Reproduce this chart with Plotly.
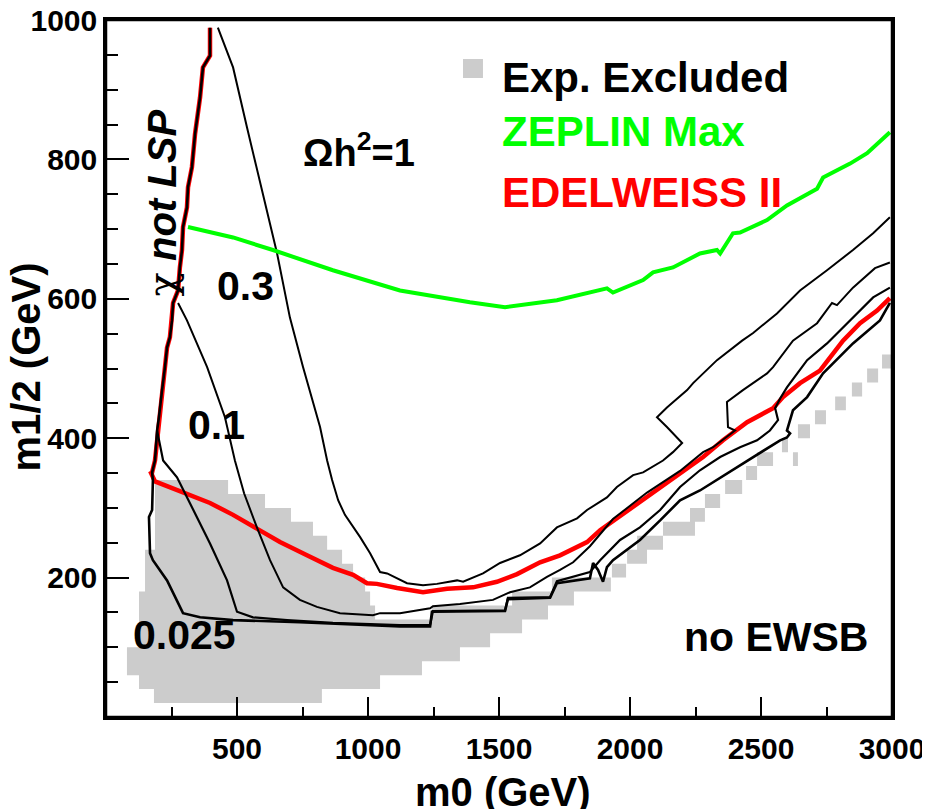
import plotly.graph_objects as go

# ---------------- axes ----------------
x_major = [500, 1000, 1500, 2000, 2500, 3000]
x_major_text = ["500", "1000", "1500", "2000", "2500", "3000"]
x_minor = [250, 750, 1250, 1750, 2250, 2750]
y_major = [200, 400, 600, 800, 1000]
y_major_text = ["200", "400", "600", "800", "1000"]
y_minor = [50, 100, 150, 250, 300, 350, 450, 500, 550, 650, 700, 750, 850, 900, 950]

# ---------------- experimentally excluded cells (m0 lo/hi, m1/2 lo/hi) ----------------
excl_m0_lo = [183, 126, 80, 80, 126, 126, 126, 1244, 126, 1550, 149, 1702, 149, 1931, 149, 1989,
              187, 2027, 187, 2126, 187, 2229, 187, 2286, 187, 2363, 2443, 2485, 2622, 2580,
              2641, 2706, 2783, 2847, 2905, 2962]
excl_m0_hi = [824, 1046, 1206, 1351, 1466, 1588, 1027, 1687, 1008, 1786, 989, 1927, 943, 1985, 901, 2065,
              844, 2126, 790, 2248, 706, 2286, 607, 2344, 466, 2428, 2485, 2546, 2641, 2603,
              2687, 2748, 2824, 2886, 2947, 3000]
excl_m12_lo = [20, 40, 60, 80, 100, 120, 140, 140, 160, 160, 180, 180, 200, 200, 220, 220,
               240, 240, 260, 260, 280, 280, 300, 300, 320, 320, 340, 360, 360, 380,
               400, 420, 440, 460, 480, 500]
excl_m12_hi = [v + 20 for v in excl_m12_lo]

# ---------------- chi not LSP boundary (top -> bottom) ----------------
lsp_m0 = [397, 397, 370, 359, 340, 328, 313, 309, 294, 290, 282, 275, 256, 252, 244, 233, 225, 218,
          214, 202, 195, 187, 176]
lsp_m12 = [989, 949, 932, 889, 837, 789, 760, 731, 703, 670, 645, 612, 594, 569, 545, 530, 502, 483,
           469, 430, 411, 368, 351]

# ---------------- EDELWEISS II (continuation after LSP boundary) ----------------
edw_m0 = [172, 187, 294, 397, 485, 576, 664, 767, 866, 943, 996, 1034, 1111, 1210, 1302, 1401, 1492,
          1569, 1657, 1733, 1836, 1886, 1962, 2065, 2164, 2279, 2355, 2447, 2546, 2584, 2649, 2725,
          2813, 2878, 2943, 2992]
edw_m12 = [350, 338, 323, 307, 290, 271, 251, 232, 214, 204, 192, 191, 185, 179, 184, 186, 194,
           205, 222, 232, 251, 268, 288, 315, 343, 373, 397, 423, 443, 459, 479, 497,
           540, 565, 583, 601]

# ---------------- ZEPLIN Max ----------------
zep_m0 = [313, 485, 637, 866, 1122, 1275, 1389, 1523, 1580, 1721, 1912, 1935, 2050, 2088, 2164, 2267,
          2332, 2344, 2393, 2420, 2523, 2599, 2714, 2737, 2840, 2905, 2992]
zep_m12 = [703, 688, 670, 641, 612, 602, 595, 588, 591, 598, 615, 609, 627, 638, 645, 665,
           670, 665, 694, 695, 713, 734, 758, 774, 794, 809, 839]

# ---------------- relic density contours ----------------
om1_m0 = [427, 485, 538, 599, 653, 702, 752, 817, 844, 863, 886, 912, 970, 1008, 1046, 1073, 1149,
          1210, 1263, 1340, 1363, 1439, 1504, 1580, 1657, 1721, 1798, 1836, 1912, 1950, 2012, 2050,
          2126, 2164, 2199, 2141, 2103, 2141, 2218, 2241, 2332, 2428, 2470, 2561, 2649, 2752, 2851,
          2928, 2992]
om1_m12 = [989, 932, 846, 751, 665, 573, 502, 416, 368, 340, 311, 290, 258, 235, 208, 206, 192,
           189, 191, 196, 194, 206, 221, 232, 249, 272, 285, 297, 315, 330, 347, 351,
           368, 380, 393, 416, 430, 444, 469, 479, 512, 540, 551, 579, 612, 641, 670,
           694, 717]

om03_m0 = [275, 309, 386, 454, 492, 527, 576, 626, 676, 740, 805, 893, 1019, 1046, 1122, 1237, 1248,
           1351, 1477, 1542, 1618, 1683, 1733, 1783, 1847, 1935, 2065, 2191, 2279, 2317, 2401, 2374,
           2370, 2431, 2523, 2546, 2622, 2714, 2771, 2790, 2851, 2935, 2992]
om03_m12 = [594, 569, 502, 430, 368, 321, 272, 225, 186, 168, 158, 149, 146, 149, 149, 156, 159,
            162, 168, 179, 186, 201, 211, 222, 245, 284, 322, 353, 380, 387, 411, 416,
            452, 469, 493, 502, 540, 565, 594, 591, 616, 644, 652]

om01_m0 = [195, 218, 271, 332, 397, 462, 500, 561, 691, 866, 1122, 1237, 1248, 1523, 1534, 1695, 1721,
           1847, 1886, 1962, 2038, 2115, 2191, 2267, 2344, 2420, 2485, 2534, 2565, 2554, 2573, 2599,
           2676, 2752, 2828, 2928, 2992]
om01_m12 = [411, 368, 344, 297, 249, 196, 151, 143, 139, 135, 132, 132, 152, 153, 171, 172, 195,
            208, 225, 254, 272, 297, 330, 354, 373, 387, 397, 411, 426, 443, 457, 473,
            512, 536, 565, 602, 616]

om0025_m0 = [179, 176, 164, 168, 179, 233, 294, 359, 485, 740, 1122, 1237, 1244, 1523, 1534, 1695,
             1721, 1847, 1859, 1878, 1897, 1912, 1935, 2038, 2115, 2191, 2267, 2344, 2420, 2496,
             2573, 2599, 2611, 2599, 2622, 2676, 2737, 2851, 2954, 2992]
om0025_m12 = [340, 297, 287, 235, 225, 196, 149, 143, 139, 136, 130, 130, 151, 152, 169, 171,
              192, 199, 221, 211, 194, 215, 225, 254, 282, 311, 325, 343, 360, 378,
              397, 401, 407, 411, 440, 459, 493, 536, 569, 594]

FONT = "Liberation Sans"
GREY = "#cccccc"
GREEN = "#00ff00"
RED = "#ff0000"

fig = go.Figure()

# excluded region
gx, gy = [], []
for x0, x1, y0, y1 in zip(excl_m0_lo, excl_m0_hi, excl_m12_lo, excl_m12_hi):
    gx += [x0, x1, x1, x0, x0, None]
    gy += [y0, y0, y1, y1, y0, None]
fig.add_trace(go.Scatter(x=gx, y=gy, mode="lines", fill="toself", fillcolor=GREY,
                         line=dict(width=0, color=GREY), hoverinfo="skip", showlegend=False))

# EDELWEISS II (follows LSP boundary then curve)
fig.add_trace(go.Scatter(x=lsp_m0 + edw_m0, y=lsp_m12 + edw_m12, mode="lines",
                         line=dict(color=RED, width=4.5), showlegend=False))

# contours
for xs, ys, w in [(om1_m0, om1_m12, 2), (om03_m0, om03_m12, 2), (om01_m0, om01_m12, 2.2),
                  (lsp_m0 + om0025_m0, lsp_m12 + om0025_m12, 2.6)]:
    fig.add_trace(go.Scatter(x=xs, y=ys, mode="lines", line=dict(color="black", width=w),
                             showlegend=False))

# ZEPLIN
fig.add_trace(go.Scatter(x=zep_m0, y=zep_m12, mode="lines", line=dict(color=GREEN, width=4),
                         showlegend=False))


def lab(text, x, y, size, color="black", angle=0, xref="x", yref="y", xanchor="center"):
    fig.add_annotation(text=text, x=x, y=y, xref=xref, yref=yref, showarrow=False,
                       xanchor=xanchor, yanchor="middle", textangle=angle,
                       font=dict(family=FONT, size=size, color=color))


lab("<b>Ωh<sup>2</sup>=1</b>", 966, 814, 38)
lab("<b>0.3</b>", 532, 619, 41)
lab("<b>0.1</b>", 420, 419, 41)
lab("<b>0.025</b>", 298, 118, 41)
lab("<b>no EWSB</b>", 2559, 115, 41)
lab("<span style=\"font-family:'DejaVu Serif'\">χ</span> <b><i>not LSP</i></b>", 214, 737, 40, angle=-90)

# frame
fig.add_shape(type="rect", xref="paper", yref="paper", x0=0, x1=1, y0=0, y1=1,
              line=dict(color="black", width=2.5), layer="above")

# legend
fig.add_shape(type="rect", xref="paper", yref="paper", x0=0.4542, x1=0.4796, y0=0.9168, y1=0.9440,
              fillcolor=GREY, line=dict(width=0))
lab("<b>Exp. Excluded</b>", 0.5013, 0.9182, 42, xref="paper", yref="paper", xanchor="left")
lab("<b>ZEPLIN Max</b>", 0.5013, 0.8407, 42, color=GREEN, xref="paper", yref="paper", xanchor="left")
lab("<b>EDELWEISS II</b>", 0.5013, 0.7518, 42, color=RED, xref="paper", yref="paper", xanchor="left")

# axis titles
lab("<b>m0 (GeV)</b>", 0.5045, -0.1075, 40, xref="paper", yref="paper")
lab("<b>m1/2 (GeV)</b>", -0.1018, 0.5029, 40, angle=-90, xref="paper", yref="paper")

tickfont = dict(family=FONT, size=30, color="black", weight="bold")
fig.update_xaxes(range=[0, 3000], showgrid=False, zeroline=False, showline=True, mirror=True,
                 linecolor="black", linewidth=2.5, ticks="inside", ticklen=20, tickwidth=2,
                 tickcolor="black", tickmode="array", tickvals=x_major, ticktext=x_major_text,
                 tickfont=tickfont, ticklabelstandoff=3, automargin=False,
                 ticklabeloverflow="allow",
                 minor=dict(tickmode="array", tickvals=x_minor, ticks="inside", ticklen=10,
                            tickwidth=2, tickcolor="black", showgrid=False))
fig.update_yaxes(range=[0, 1000], showgrid=False, zeroline=False, showline=True, mirror=True,
                 linecolor="black", linewidth=2.5, ticks="inside", ticklen=23, tickwidth=2,
                 tickcolor="black", tickmode="array", tickvals=y_major, ticktext=y_major_text,
                 tickfont=tickfont, ticklabelstandoff=0, automargin=False,
                 ticklabeloverflow="allow",
                 minor=dict(tickmode="array", tickvals=y_minor, ticks="inside", ticklen=12,
                            tickwidth=2, tickcolor="black", showgrid=False))
# page body has an 8px default margin: size figure so the plot frame lands where the reference has it
fig.update_layout(width=922, height=801, margin=dict(l=98, r=38, t=12, b=92, autoexpand=False),
                  paper_bgcolor="white", plot_bgcolor="white", showlegend=False)

fig.write_html("out.html")
